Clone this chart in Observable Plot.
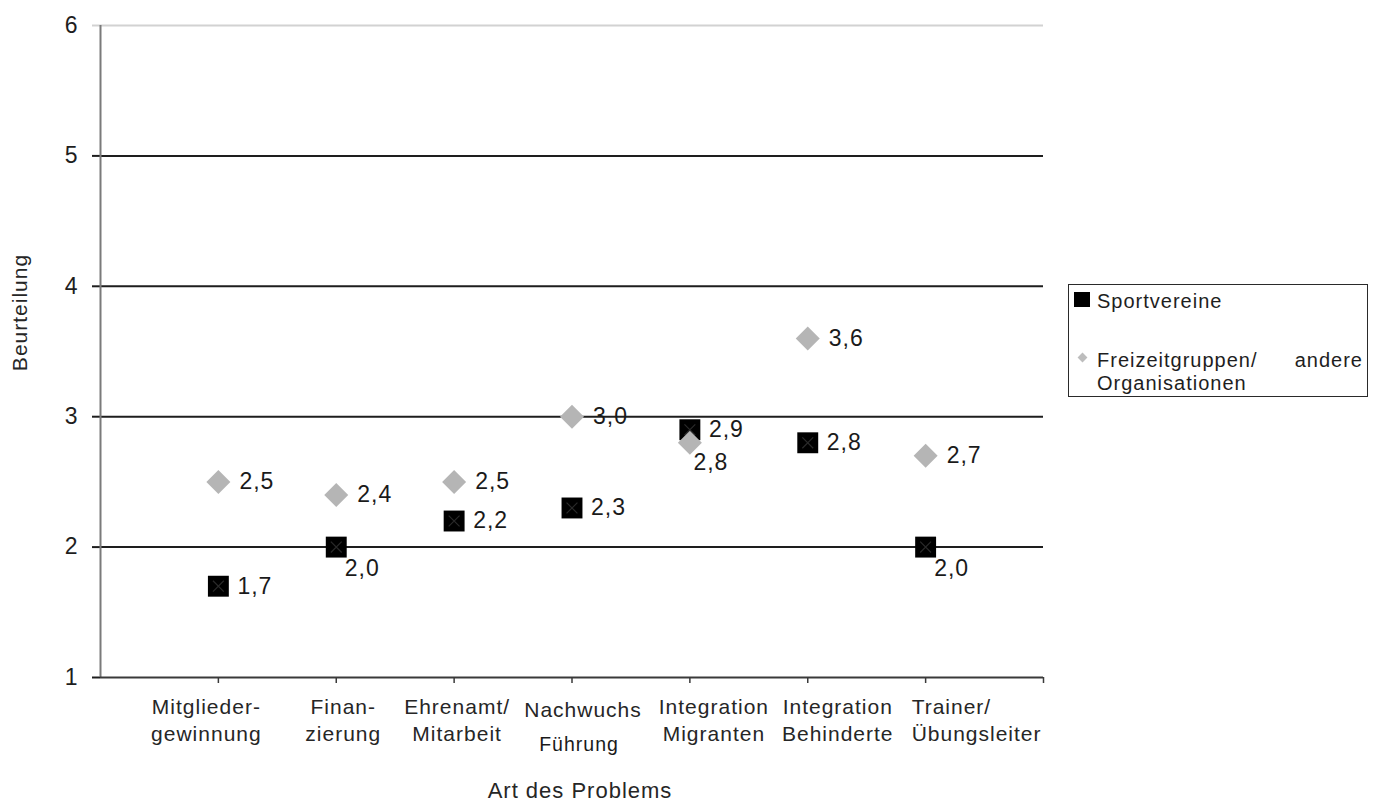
<!DOCTYPE html>
<html>
<head>
<meta charset="utf-8">
<script src="https://cdn.jsdelivr.net/npm/d3@7"></script>
<script src="https://cdn.jsdelivr.net/npm/@observablehq/plot@0.6"></script>
<style>
  html, body { margin: 0; padding: 0; background: #fff; }
  #wrap { position: relative; width: 1376px; height: 804px; overflow: hidden;
          font-family: "Liberation Sans", Arial, sans-serif; color: #1e1e1e; }
  #wrap svg { position: absolute; left: 0; top: 0; }
  .lg { position: absolute; font-size: 20px; letter-spacing: 1px; line-height: 1; white-space: nowrap; }
  #legendBox { position: absolute; left: 1068px; top: 284px; width: 300px; height: 113px;
               box-sizing: border-box; border: 1.5px solid #2a2a2a; background: #fff; }
  #legendSquare { position: absolute; left: 1074px; top: 292px; width: 16px; height: 15px; background: #000; }
  #legendDiamond { position: absolute; left: 1079px; top: 354px; width: 7px; height: 7px;
                   background: #bdbdbd; transform: rotate(45deg); }
  #legendJust { display: flex; justify-content: space-between; width: 266px; }
</style>
</head>
<body>
<div id="wrap"></div>
<script>
// Problem categories (x axis), one value per category for each group
const categories = [
  "Mitglieder-\ngewinnung",
  "Finan-\nzierung",
  "Ehrenamt/\nMitarbeit",
  "Nachwuchs\nFührung",
  "Integration\nMigranten",
  "Integration\nBehinderte",
  "Trainer/\nÜbungsleiter"
];
const sportvereine    = [1.7, 2.0, 2.2, 2.3, 2.9, 2.8, 2.0];
const freizeitgruppen = [2.5, 2.4, 2.5, 3.0, 2.8, 3.6, 2.7];
const yTicks = [1, 2, 3, 4, 5, 6];
const seriesNames = ["Sportvereine", "Freizeitgruppen/ andere Organisationen"];
const xTitle = "Art des Problems";
const yTitle = "Beurteilung";

// Horizontal nudge (px) and alignment of each category caption relative to its tick
const captionShift = [-12, 7, 3, 11, 24, 30, -14];
const captionAnchor = ["middle", "middle", "middle", "middle", "middle", "middle", "start"];

const fmt = v => v.toFixed(1).replace(".", ",");

const sportRows = sportvereine.map((v, i) => ({pos: i + 1, v}));
const freiRows = freizeitgruppen.map((v, i) => ({pos: i + 1, v}));

// Squares sitting right on a gridline get their value written underneath
const onGrid = v => Number.isInteger(v);
const sportRight = sportRows.filter(d => !onGrid(d.v));
const sportBelow = sportRows.filter(d => onGrid(d.v));
// Diamonds tucked just under a square also take the label underneath
const crowded = d => d.v < sportvereine[d.pos - 1] && sportvereine[d.pos - 1] - d.v < 0.15;
const freiRight = freiRows.filter(d => !crowded(d));
const freiBelow = freiRows.filter(crowded);

// Category captions: "Nachwuchs" stands alone with its second word further down
const looseHead = "Nachwuchs";
const captionMarks = categories.flatMap((c, i) => {
  const lines = c.split("\n");
  const row = [{pos: i + 1}];
  const common = {x: "pos", y: () => 1, lineAnchor: "top", dx: captionShift[i], textAnchor: captionAnchor[i], fill: "#262626"};
  if (lines[0] === looseHead) {
    return [
      Plot.text(row, {...common, text: () => lines[0], dy: 25, fontSize: 21}),
      Plot.text(row, {...common, text: () => lines.slice(1).join(" "), dy: 60, dx: captionShift[i] - 4, fontSize: 19.5, fill: "#1a1a1a"})
    ];
  }
  return [Plot.text(row, {...common, text: () => lines.join("\n"), dy: 17, lineHeight: 1.29, fontSize: 21})];
});

const font = "Liberation Sans, Arial, sans-serif";

const chart = Plot.plot({
  width: 1376,
  height: 804,
  marginLeft: 100,
  marginRight: 333,
  marginTop: 25,
  marginBottom: 127,
  style: {fontFamily: font, fontSize: "21px", color: "#1e1e1e", background: "transparent", letterSpacing: "1px"},
  x: {domain: [0, 8]},
  y: {domain: [1, 6]},
  marks: [
    // horizontal gridlines
    Plot.ruleY([6], {stroke: "#d2d2d2", strokeWidth: 2}),
    Plot.ruleY(yTicks.filter(t => t > 1 && t < 6), {stroke: "#1e1e1e", strokeWidth: 2}),
    // y axis
    Plot.axisY({ticks: yTicks.filter(t => t < 6), tickFormat: "d", tickSize: 8, tickPadding: 14, stroke: "#1e1e1e", strokeWidth: 2, fontSize: 23, label: null}),
    Plot.axisY({ticks: [6], tickFormat: "d", tickSize: 8, tickPadding: 14, stroke: "#d2d2d2", strokeWidth: 2, fill: "#1e1e1e", fontSize: 23, label: null}),
    Plot.ruleX([0], {y1: 1, y2: 6, stroke: "#7a7a7a", strokeWidth: 2}),
    // x axis
    Plot.ruleY([1], {stroke: "#3a3a3a", strokeWidth: 2}),
    Plot.axisX({ticks: d3.range(1, 9), tickSize: 6, tickFormat: () => "", stroke: "#3a3a3a", strokeWidth: 1.5, label: null}),
    // category captions
    ...captionMarks,
    // axis titles
    Plot.text([xTitle], {x: () => 4, y: () => 1, text: d => d, dx: 8, dy: 113, fontSize: 22, fill: "#262626"}),
    Plot.text([yTitle], {frameAnchor: "left", textAnchor: "middle", text: d => d, rotate: -90, dx: -80, dy: -39, fontSize: 21, fill: "#262626"}),
    // Sportvereine: black squares
    Plot.dot(sportRows, {x: "pos", y: "v", symbol: "square", r: 11.8, fill: "#000"}),
    Plot.dot(sportRows, {x: "pos", y: "v", symbol: "times", r: 5, stroke: "#2a2a2a", strokeWidth: 1.2}),
    // Freizeitgruppen: grey diamonds
    Plot.dot(freiRows, {x: "pos", y: "v", symbol: "diamond2", r: 10.8, fill: "#b5b5b5"}),
    // value labels
    Plot.text(sportRight, {x: "pos", y: "v", text: d => fmt(d.v), textAnchor: "start", dx: 19, fontSize: 23, fill: "#1a1a1a"}),
    Plot.text(sportBelow, {x: "pos", y: "v", text: d => fmt(d.v), textAnchor: "middle", dx: 26, dy: 22, fontSize: 23, fill: "#1a1a1a"}),
    Plot.text(freiRight, {x: "pos", y: "v", text: d => fmt(d.v), textAnchor: "start", dx: 21, fontSize: 23, fill: "#1a1a1a"}),
    Plot.text(freiBelow, {x: "pos", y: "v", text: d => fmt(d.v), textAnchor: "middle", dx: 21, dy: 20, fontSize: 23, fill: "#1a1a1a"})
  ]
});

const wrap = document.getElementById("wrap");
wrap.appendChild(chart);

// Legend box to the right of the plot
function add(tag, id, cls, css, text) {
  const el = document.createElement(tag);
  if (id) el.id = id;
  if (cls) el.className = cls;
  if (css) el.style.cssText = css;
  if (text != null) el.textContent = text;
  wrap.appendChild(el);
  return el;
}
add("div", "legendBox");
add("div", "legendSquare");
add("div", null, "lg", "left:1097px; top:291px;", seriesNames[0]);
add("div", "legendDiamond");
const words = seriesNames[1].split(" ");
const just = add("div", "legendJust", "lg", "left:1097px; top:350px;");
words.slice(0, 2).forEach(w => { const s = document.createElement("span"); s.textContent = w; just.appendChild(s); });
add("div", null, "lg", "left:1097px; top:373px;", words.slice(2).join(" "));
</script>
</body>
</html>
